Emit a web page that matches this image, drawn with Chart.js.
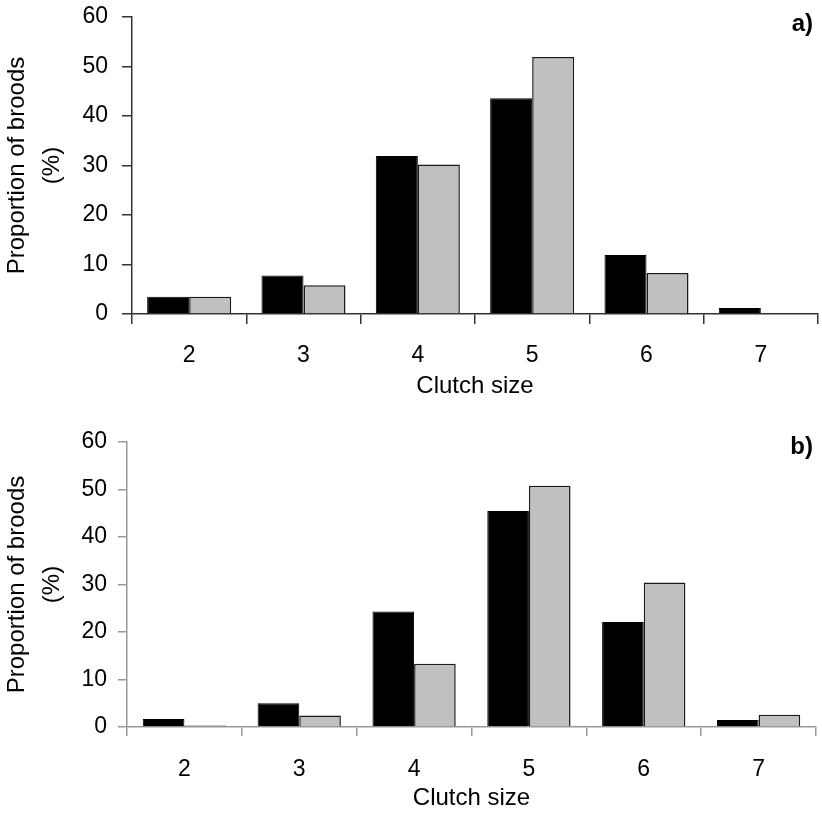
<!DOCTYPE html>
<html>
<head>
<meta charset="utf-8">
<title>Clutch size</title>
<script src="https://cdn.jsdelivr.net/npm/chart.js@4/dist/chart.umd.min.js"></script>
<style>
    body {
        margin: 0;
        background: #ffffff;
    }

    .panel {
        position: absolute;
        left: 0;
        width: 822px;
    }

    .panel-letter {
        position: absolute;
        font-family: "Liberation Sans", Arial, sans-serif;
        font-weight: bold;
        font-size: 24px;
        line-height: 24px;
        color: #000000;
    }
</style>
</head>
<body>
<div class="panel" style="top: 0; height: 410px;">
    <canvas id="chartA" width="822" height="410"></canvas>
</div>
<div class="panel-letter" style="right: 9px; top: 11px;">a)</div>

<div class="panel" style="top: 410px; height: 414px;">
    <canvas id="chartB" width="822" height="414"></canvas>
</div>
<div class="panel-letter" style="right: 9px; top: 434px;">b)</div>

<script>
"use strict";

// clutch size categories
const clutchSizes = ["2", "3", "4", "5", "6", "7"];

// panel a) proportion of broods (%)
const panelABlack = [3.5, 7.8, 31.9, 43.6, 11.9, 1.2];
const panelAGrey = [3.5, 5.8, 30.2, 51.9, 8.3, 0];

// panel b) proportion of broods (%)
const panelBBlack = [1.7, 5.0, 24.3, 45.5, 22.1, 1.5];
const panelBGrey = [0.3, 2.4, 13.3, 50.8, 30.4, 2.6];

const yTicks = [0, 10, 20, 30, 40, 50, 60];

(() => {

    const fontFamily = "'Liberation Sans', Arial, sans-serif";

    function makePanel(canvasId, blackValues, greyValues, cfg) {

        const ctx = document.getElementById(canvasId);

        const data = {
            labels: clutchSizes,
            datasets: [{
                data: blackValues,
                backgroundColor: "#000000",
                borderColor: "#000000",
                borderWidth: 1
            }, {
                data: greyValues,
                backgroundColor: "#c0c0c0",
                borderColor: "#1a1a1a",
                borderWidth: 1.5
            }]
        };

        new Chart(ctx, {
            type: "bar",
            data: data,
            options: {
                responsive: false,
                animation: false,
                devicePixelRatio: 1,
                categoryPercentage: cfg.groupWidth,
                barPercentage: 1,
                layout: {
                    padding: {top: cfg.padTop, right: cfg.padRight, left: 0, bottom: 0}
                },
                plugins: {
                    legend: {display: false},
                    tooltip: {enabled: false}
                },
                scales: {
                    x: {
                        grid: {
                            display: true,
                            drawOnChartArea: false,
                            offset: true,
                            tickLength: cfg.tickLength,
                            color: cfg.axisColor,
                            lineWidth: 1.5
                        },
                        border: {display: true, color: cfg.axisColor, width: 1.5},
                        ticks: {
                            color: "#000000",
                            font: {family: fontFamily, size: 23},
                            padding: cfg.xTickPad,
                            maxRotation: 0,
                            autoSkip: false
                        },
                        title: {
                            display: true,
                            text: "Clutch size",
                            color: "#000000",
                            font: {family: fontFamily, size: 24},
                            padding: {top: 0, bottom: cfg.xTitlePad}
                        },
                        afterFit: (scale) => {
                            scale.height = cfg.xHeight;
                        }
                    },
                    y: {
                        min: 0,
                        max: 60,
                        afterBuildTicks: (scale) => {
                            scale.ticks = yTicks.map((v) => ({value: v}));
                        },
                        grid: {
                            display: true,
                            drawOnChartArea: false,
                            tickLength: cfg.tickLength,
                            color: cfg.axisColor,
                            lineWidth: 1.5
                        },
                        border: {display: true, color: cfg.axisColor, width: 1.5},
                        ticks: {
                            color: "#000000",
                            font: {family: fontFamily, size: 23},
                            padding: cfg.yTickPad
                        },
                        title: {
                            display: true,
                            text: ["Proportion of broods", "(%)"],
                            color: "#000000",
                            font: {family: fontFamily, size: 24, lineHeight: 1.45},
                            padding: 0
                        },
                        afterFit: (scale) => {
                            scale.width = cfg.yWidth;
                            // let the layout padding alone decide the plot top
                            scale.paddingTop = 0;
                            scale.paddingBottom = 0;
                        }
                    }
                }
            }
        });
    }

    makePanel("chartA", panelABlack, panelAGrey, {
        groupWidth: 0.735,
        padTop: 17,
        padRight: 4,
        yWidth: 132,
        xHeight: 96,
        tickLength: 10,
        xTickPad: 18,
        yTickPad: 14,
        xTitlePad: 9,
        axisColor: "#333333"
    });

    makePanel("chartB", panelBBlack, panelBGrey, {
        groupWidth: 0.725,
        padTop: 32,
        padRight: 6,
        yWidth: 127,
        xHeight: 97,
        tickLength: 9,
        xTickPad: 20,
        yTickPad: 11,
        xTitlePad: 11,
        axisColor: "#999999"
    });

})();
</script>
</body>
</html>
